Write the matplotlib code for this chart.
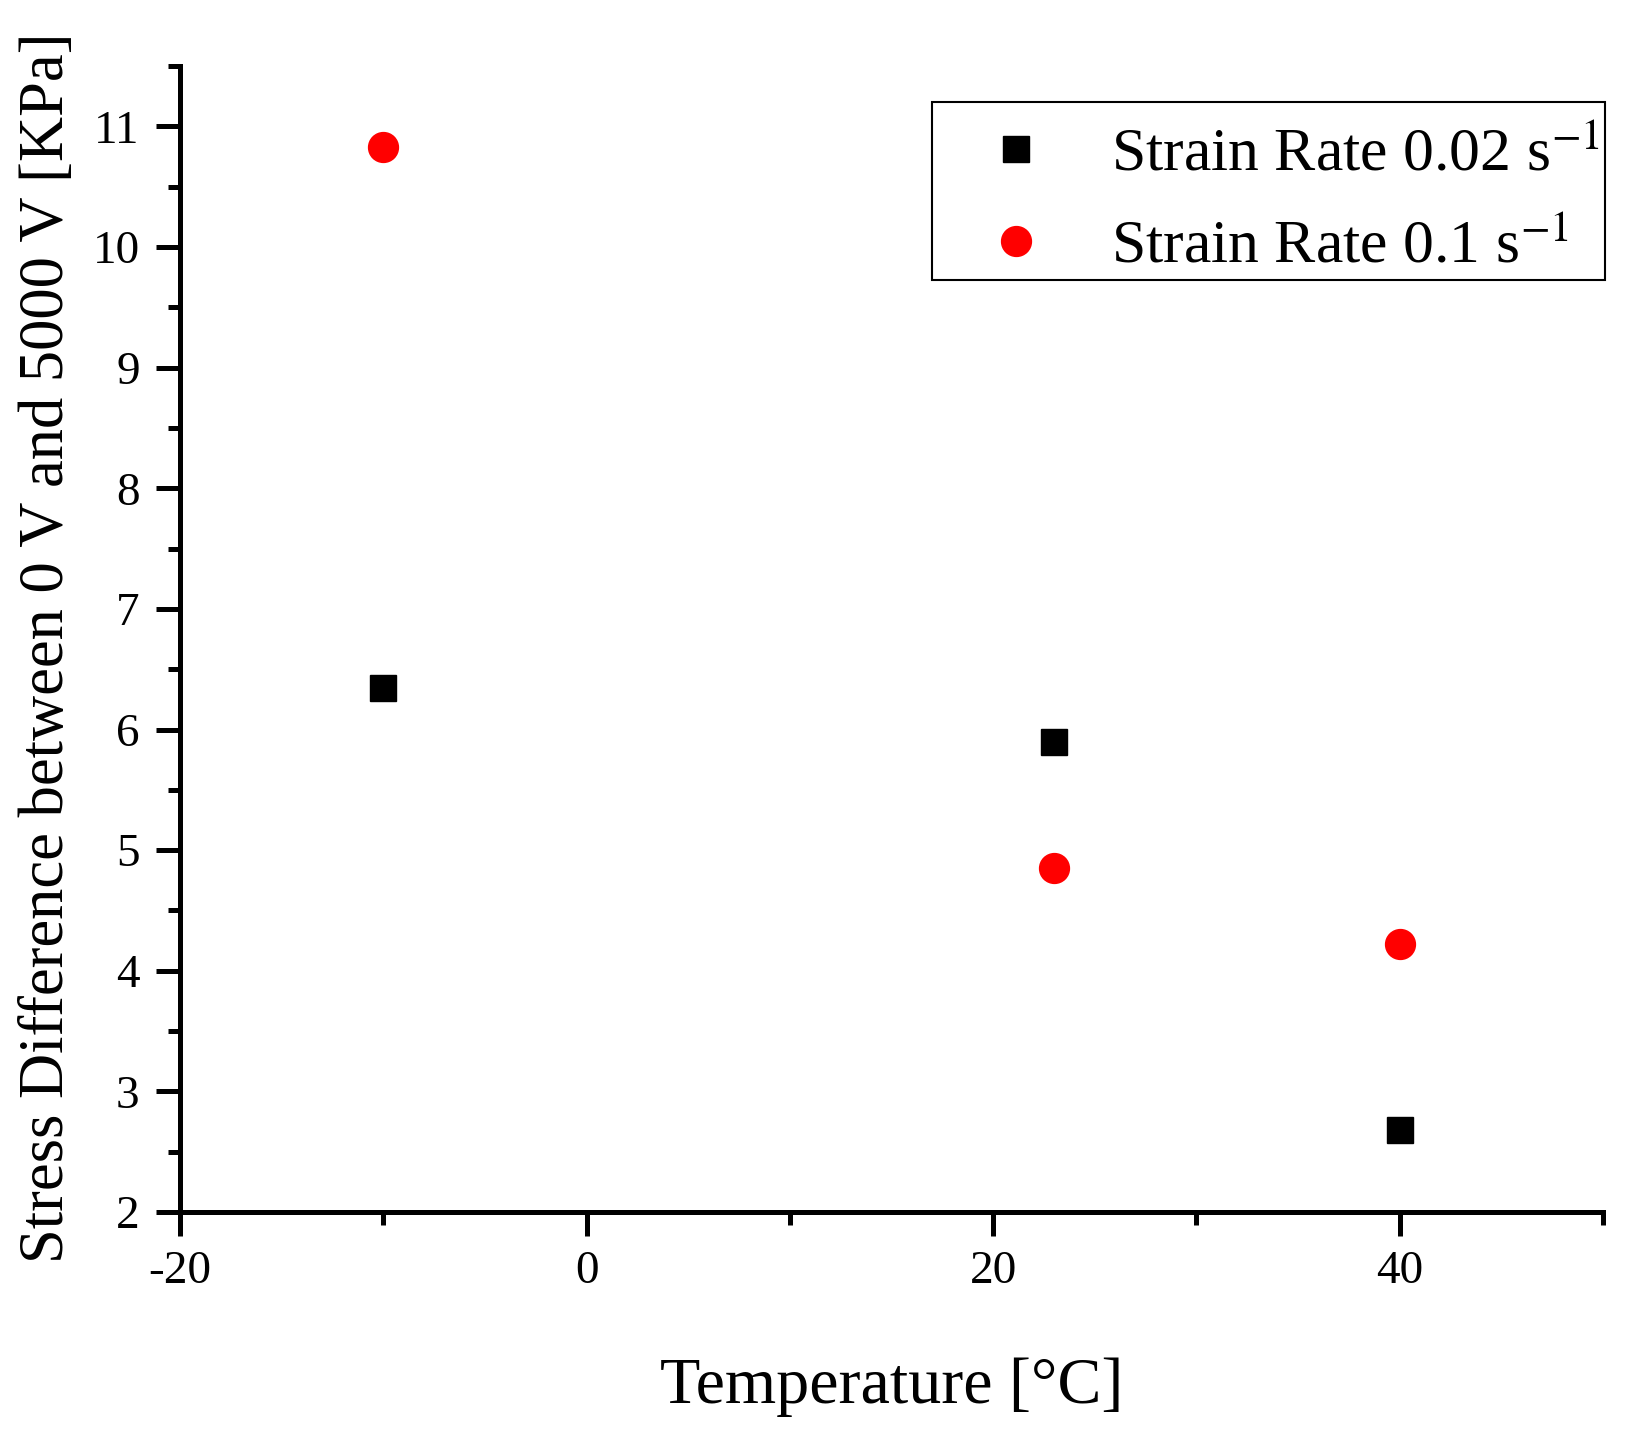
import matplotlib
matplotlib.use("Agg")
import matplotlib.pyplot as plt
from matplotlib.patches import Rectangle
from matplotlib.ticker import MultipleLocator, FuncFormatter

plt.rcParams["font.family"] = ["Liberation Serif", "DejaVu Serif"]
plt.rcParams["mathtext.fontset"] = "stix"

temperature = [-10, 23, 40]
stress_rate_002 = [6.34, 5.90, 2.68]
stress_rate_01 = [10.83, 4.85, 4.22]
series_labels = [r"Strain Rate 0.02 s$^{-1}$", r"Strain Rate 0.1 s$^{-1}$"]

fig = plt.figure(figsize=(16.29, 14.38), dpi=100)
ax = fig.add_axes([0.1105, 0.1572, 0.8735, 0.7968])

ax.plot(temperature, stress_rate_002, linestyle="none", marker="s", ms=18.7,
        color="black", label=series_labels[0], clip_on=False)
ax.plot(temperature, stress_rate_01, linestyle="none", marker="o", ms=21.5,
        color="red", label=series_labels[1], clip_on=False)

ax.set_xlim(-20, 50)
ax.set_ylim(2, 11.5)
ax.xaxis.set_major_locator(MultipleLocator(20))
ax.xaxis.set_minor_locator(MultipleLocator(10))
ax.yaxis.set_major_locator(MultipleLocator(1))
ax.yaxis.set_minor_locator(MultipleLocator(0.5))
ax.xaxis.set_major_formatter(FuncFormatter(lambda v, p: f"{v:g}"))
ax.yaxis.set_major_formatter(FuncFormatter(lambda v, p: f"{v:g}"))

for side in ("top", "right"):
    ax.spines[side].set_visible(False)
for side in ("left", "bottom"):
    ax.spines[side].set_linewidth(3.6)

ax.tick_params(which="major", direction="out", length=17, width=3.6,
               labelsize=34)
ax.tick_params(axis="x", which="major", pad=11)
ax.tick_params(axis="y", which="major", pad=12)
ax.tick_params(which="minor", direction="out", length=9, width=3.6)

ax.set_xlabel("Temperature [°C]", fontsize=47.5, labelpad=46)
ax.set_ylabel("Stress Difference between 0 V and 5000 V [KPa]", fontsize=45,
              labelpad=11)
ax.yaxis.label.set_y(0.492)

# legend content without its own frame; the frame is drawn around it below
leg = ax.legend(loc="upper right", bbox_to_anchor=(0.998, 0.947), borderaxespad=0,
                fontsize=44.5, frameon=False, handletextpad=0.8, borderpad=0,
                labelspacing=0.58, handlelength=1.5)

fig.canvas.draw()
bb = leg.get_window_extent()
pad_l, pad_r, pad_t, pad_b = 37, 5, 25, 4.5
fig.add_artist(Rectangle((bb.x0 - pad_l, bb.y0 - pad_b),
                         bb.width + pad_l + pad_r, bb.height + pad_t + pad_b,
                         transform=None, fill=False, edgecolor="black",
                         linewidth=1.5, zorder=5))

fig.savefig("out.png", dpi=100)
